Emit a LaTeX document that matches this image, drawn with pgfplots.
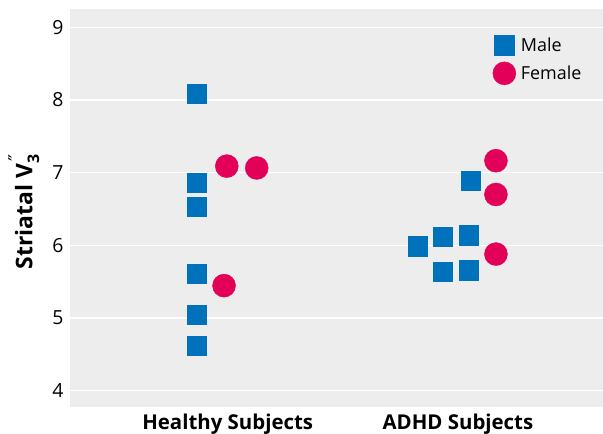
\documentclass[border=0pt]{standalone}
\usepackage{pgfplots}
\pgfplotsset{compat=1.18}
\usepackage{fontspec}
\setmainfont{Open Sans}
\newfontfamily\dejavu{DejaVu Sans}
\definecolor{bggray}{RGB}{237,237,237}
\definecolor{mblue}{RGB}{0,114,187}
\definecolor{fpink}{RGB}{226,0,88}
\begin{document}
\begin{tikzpicture}
\begin{axis}[
  name=ax,
  scale only axis,
  width=533bp, height=398bp,
  xmin=0.315, xmax=2.630,
  ymin=3.776, ymax=9.252,
  axis background/.style={fill=bggray},
  axis line style={draw=none},
  major tick length=0pt,
  ymajorgrids,
  major grid style={white, line width=1.3bp},
  ytick={4,5,6,7,8,9},
  xtick={1,2},
  xticklabels={Healthy Subjects, ADHD Subjects},
  xticklabel style={font=\fontsize{20.5}{22}\selectfont\bfseries, yshift=-3bp},
  yticklabel style={font=\fontsize{19.5}{22}\selectfont, xshift=-3bp},
  /pgf/number format/assume math mode=true,
  ylabel={Striatal V\rlap{\raisebox{-0.3em}{\fontsize{16}{16}\selectfont 3}}\raisebox{0.42em}{\hspace{0.1em}\fontsize{19}{19}\selectfont\dejavu\mdseries ″}},
  ylabel style={font=\fontsize{23}{26}\selectfont\bfseries, at={(axis description cs:-0.086,0.49)}, anchor=center},
  legend style={draw=none, fill=none, at={(axis description cs:0.793,0.934)}, anchor=north west,
    font=\fontsize{18}{20}\selectfont, row sep=7bp, column sep=3bp, inner sep=0pt},
  legend cell align=left,
  legend image code/.code={\draw[#1, mark repeat=1] plot coordinates {(0bp,0bp)};},
  clip=false,
]
\addplot[only marks, mark=square*, color=mblue, mark size=9.7bp]
  coordinates {
  (0.865,8.085) (0.865,6.86) (0.865,6.53) (0.865,5.61) (0.865,5.045) (0.865,4.62)
  (1.826,5.99) (1.935,6.115) (2.047,6.14) (1.935,5.634) (2.047,5.66) (2.056,6.886)
  };
\addlegendentry{Male}
\addplot[only marks, mark=*, color=fpink, mark size=11.5bp]
  coordinates {
  (0.996,7.09) (1.126,7.065) (0.984,5.446)
  (2.165,7.165) (2.165,6.70) (2.165,5.88)
  };
\addlegendentry{Female}
\end{axis}
\pgfresetboundingbox
\path ([shift={(-70bp,-27bp)}]ax.south west) rectangle ([yshift=9bp]ax.north east);
\end{tikzpicture}
\end{document}
